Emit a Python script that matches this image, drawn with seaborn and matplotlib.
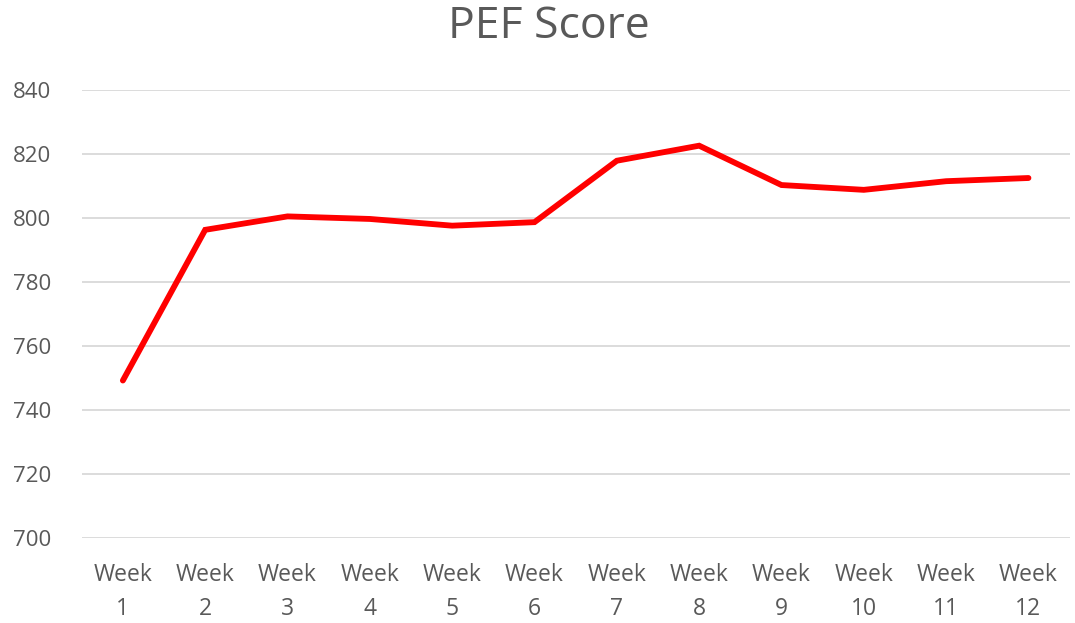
import pandas as pd
import matplotlib
matplotlib.use("Agg")
import matplotlib.pyplot as plt
import seaborn as sns

# ── Data ──────────────────────────────────────────────────
weeks = [f"Week\n{i}" for i in range(1, 13)]
pef_score = [749.3, 796.4, 800.6, 799.8, 797.7, 798.8,
             818.0, 822.7, 810.4, 808.9, 811.6, 812.6]
y_ticks = [700, 720, 740, 760, 780, 800, 820, 840]

df = pd.DataFrame({"week": weeks, "pef": pef_score})

# ── Plot ──────────────────────────────────────────────────
sns.set_theme(style="white")
plt.rcParams["font.family"] = ["Open Sans", "DejaVu Sans"]

fig = plt.figure(figsize=(10.75, 6.23), dpi=100)
ax = fig.add_axes([0.076, 0.136, 0.919, 0.719])

sns.lineplot(data=df, x="week", y="pef", sort=False, color="#ff0000",
             linewidth=4.2, solid_capstyle="round", solid_joinstyle="miter", ax=ax)

ax.set_xlim(-0.5, len(weeks) - 0.5)
ax.set_ylim(700, 840)
ax.set_yticks(y_ticks)
ax.yaxis.grid(True, color="#d9d9d9", linewidth=1.3)
ax.set_axisbelow(True)
for s in ax.spines.values():
    s.set_visible(False)

ax.tick_params(axis="both", length=0, labelcolor="#595959")
ax.tick_params(axis="y", labelsize=16, pad=22)
ax.tick_params(axis="x", labelsize=16.5, pad=18)
for lbl in ax.get_xticklabels():
    lbl.set_linespacing(1.55)
ax.set_xlabel("")
ax.set_ylabel("")

fig.text(0.511, 0.957, "PEF Score", fontsize=32, color="#595959",
         ha="center", va="center")

plt.savefig("out.png", dpi=100)
